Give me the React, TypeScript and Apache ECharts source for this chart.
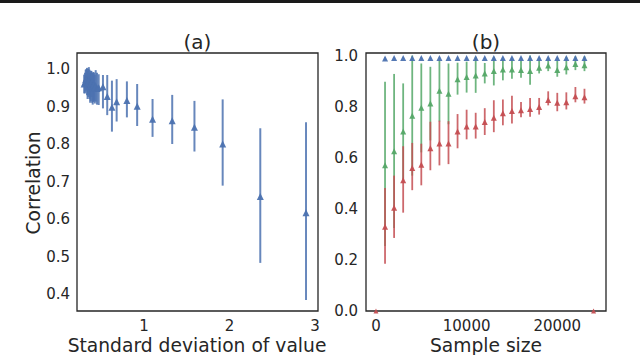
import React, { useEffect, useRef } from "react";
import * as echarts from "echarts";

// Panel (a): standard deviation of value vs correlation
const aStd = [0.30, 0.31, 0.318, 0.325, 0.333, 0.34, 0.348, 0.355, 0.363, 0.37, 0.378, 0.385, 0.393, 0.40, 0.408, 0.415, 0.425, 0.435, 0.45, 0.47, 0.52, 0.57, 0.625, 0.68, 0.80, 0.92, 1.10, 1.33, 1.59, 1.92, 2.36, 2.895];
const aCorr = [0.96, 0.965, 0.972, 0.975, 0.968, 0.96, 0.965, 0.97, 0.962, 0.955, 0.96, 0.965, 0.955, 0.95, 0.958, 0.96, 0.952, 0.955, 0.948, 0.95, 0.953, 0.927, 0.898, 0.913, 0.916, 0.901, 0.866, 0.862, 0.845, 0.80, 0.66, 0.617];
const aLow = [0.935, 0.935, 0.94, 0.945, 0.93, 0.92, 0.925, 0.93, 0.92, 0.91, 0.915, 0.925, 0.91, 0.905, 0.912, 0.915, 0.908, 0.913, 0.905, 0.904, 0.895, 0.877, 0.833, 0.86, 0.871, 0.848, 0.819, 0.80, 0.78, 0.689, 0.483, 0.384];
const aHigh = [0.985, 0.99, 0.998, 1.0, 1.003, 0.995, 1.0, 1.005, 0.998, 0.99, 0.995, 0.995, 0.99, 0.99, 0.992, 0.99, 0.985, 0.997, 0.99, 0.986, 0.984, 0.984, 0.969, 0.973, 0.967, 0.96, 0.92, 0.931, 0.915, 0.919, 0.842, 0.858];

// Panel (b): sample size vs correlation, three series
const sizes = [1000, 2000, 3000, 4000, 5000, 6000, 7000, 8000, 9000, 10000, 11000, 12000, 13000, 14000, 15000, 16000, 17000, 18000, 19000, 20000, 21000, 22000, 23000];
const blueVal = [0.988, 0.99, 0.99, 0.99, 0.99, 0.99, 0.99, 0.99, 0.99, 0.99, 0.99, 0.99, 0.99, 0.99, 0.99, 0.99, 0.99, 0.99, 0.99, 0.99, 0.99, 0.99, 0.99];
const blueLow = [0.983, 0.986, 0.987, 0.987, 0.987, 0.987, 0.987, 0.987, 0.987, 0.987, 0.987, 0.987, 0.987, 0.987, 0.987, 0.987, 0.987, 0.987, 0.987, 0.987, 0.987, 0.987, 0.987];
const blueHigh = [0.993, 0.994, 0.993, 0.993, 0.993, 0.993, 0.993, 0.993, 0.993, 0.993, 0.993, 0.993, 0.993, 0.993, 0.993, 0.993, 0.993, 0.993, 0.993, 0.993, 0.993, 0.993, 0.993];
const greenVal = [0.571, 0.625, 0.703, 0.764, 0.796, 0.812, 0.862, 0.85, 0.907, 0.916, 0.922, 0.93, 0.94, 0.945, 0.945, 0.943, 0.94, 0.952, 0.961, 0.943, 0.954, 0.967, 0.962];
const greenLow = [0.254, 0.325, 0.514, 0.53, 0.621, 0.668, 0.742, 0.731, 0.847, 0.855, 0.854, 0.891, 0.883, 0.903, 0.909, 0.913, 0.886, 0.93, 0.939, 0.917, 0.926, 0.943, 0.939];
const greenHigh = [0.897, 0.928, 0.891, 1.0, 0.969, 0.956, 0.982, 0.969, 0.972, 0.976, 0.995, 0.971, 0.995, 0.987, 0.987, 0.984, 1.0, 0.984, 0.987, 0.982, 0.995, 0.997, 0.997];
const redVal = [0.33, 0.404, 0.512, 0.56, 0.573, 0.637, 0.656, 0.656, 0.703, 0.722, 0.722, 0.74, 0.757, 0.774, 0.783, 0.786, 0.791, 0.799, 0.826, 0.815, 0.817, 0.841, 0.837];
const redLow = [0.185, 0.286, 0.385, 0.473, 0.492, 0.551, 0.57, 0.575, 0.637, 0.672, 0.675, 0.689, 0.70, 0.727, 0.734, 0.758, 0.76, 0.769, 0.805, 0.782, 0.789, 0.817, 0.812];
const redHigh = [0.482, 0.53, 0.645, 0.658, 0.655, 0.741, 0.745, 0.743, 0.771, 0.788, 0.776, 0.794, 0.825, 0.828, 0.843, 0.818, 0.834, 0.834, 0.86, 0.854, 0.856, 0.877, 0.87];
const redEndSizes = [0, 24000];
const redEndVals = [0, 0];

const aXTicks = [1, 2, 3];
const aYTicks = [0.4, 0.5, 0.6, 0.7, 0.8, 0.9, 1.0];
const bXTicks = [0, 10000, 20000];
const bYTicks = [0, 0.2, 0.4, 0.6, 0.8, 1.0];

const BLUE = "#4c72b0";
const GREEN = "#55a868";
const RED = "#c44e52";
const INK = "#262626";
const FONT = "DejaVu Sans";

function errorSeries(name: string, xs: number[], lo: number[], hi: number[], color: string, idx: number, width: number) {
  return {
    name,
    type: "custom",
    xAxisIndex: idx,
    yAxisIndex: idx,
    clip: true,
    data: xs.map((x, i) => [x, lo[i], hi[i]]),
    encode: { x: 0, y: [1, 2] },
    renderItem: (params: any, api: any) => {
      const p1 = api.coord([api.value(0), api.value(1)]);
      const p2 = api.coord([api.value(0), api.value(2)]);
      return {
        type: "line",
        shape: { x1: p1[0], y1: p1[1], x2: p2[0], y2: p2[1] },
        style: { stroke: color, lineWidth: width, opacity: 0.85 },
      };
    },
    z: 2,
  };
}

function markerSeries(name: string, xs: number[], ys: number[], color: string, idx: number, size: number) {
  return {
    name,
    type: "scatter",
    xAxisIndex: idx,
    yAxisIndex: idx,
    symbol: "triangle",
    symbolSize: size,
    clip: true,
    data: xs.map((x, i) => [x, ys[i]]),
    itemStyle: { color, opacity: 0.95 },
    z: 3,
  };
}

const labelStyle = { color: INK, fontSize: 15, fontFamily: FONT };

export default function App() {
  const ref = useRef<HTMLDivElement>(null);
  useEffect(() => {
    if (!ref.current) return;
    const chart = echarts.init(ref.current, undefined, { renderer: "svg" });
    chart.setOption({
      animation: false,
      backgroundColor: "#ffffff",
      grid: [
        { left: 77, top: 53, width: 241, height: 258, show: true, borderColor: INK, borderWidth: 1.3, backgroundColor: "transparent" },
        { left: 366, top: 53, width: 240, height: 258, show: true, borderColor: INK, borderWidth: 1.3, backgroundColor: "transparent" },
      ],
      xAxis: [
        {
          gridIndex: 0, type: "value", min: 0.2164, max: 3.035,
          axisLine: { show: false }, axisTick: { show: false }, splitLine: { show: false },
          axisLabel: { ...labelStyle, margin: 7, customValues: aXTicks, formatter: (v: number) => String(Math.round(v)) },
        },
        {
          gridIndex: 1, type: "value", min: -1100, max: 25375,
          axisLine: { show: false }, axisTick: { show: false }, splitLine: { show: false },
          axisLabel: { ...labelStyle, margin: 7, customValues: bXTicks, formatter: (v: number) => String(Math.round(v)) },
        },
      ],
      yAxis: [
        {
          gridIndex: 0, type: "value", min: 0.3547, max: 1.0427,
          axisLine: { show: false }, axisTick: { show: false }, splitLine: { show: false },
          axisLabel: { ...labelStyle, margin: 7, customValues: aYTicks, formatter: (v: number) => v.toFixed(1) },
        },
        {
          gridIndex: 1, type: "value", min: 0, max: 1.01,
          axisLine: { show: false }, axisTick: { show: false }, splitLine: { show: false },
          axisLabel: { ...labelStyle, margin: 8, customValues: bYTicks, formatter: (v: number) => v.toFixed(1) },
        },
      ],
      series: [
        errorSeries("a-err", aStd, aLow, aHigh, BLUE, 0, 2),
        markerSeries("a", aStd, aCorr, BLUE, 0, 7),
        errorSeries("blue-err", sizes, blueLow, blueHigh, BLUE, 1, 1.5),
        errorSeries("green-err", sizes, greenLow, greenHigh, GREEN, 1, 1.8),
        errorSeries("red-err", sizes, redLow, redHigh, RED, 1, 1.8),
        markerSeries("blue", sizes, blueVal, BLUE, 1, 6),
        markerSeries("green", sizes, greenVal, GREEN, 1, 6),
        markerSeries("red", sizes, redVal, RED, 1, 6),
        markerSeries("red-ends", redEndSizes, redEndVals, RED, 1, 5),
      ],
      graphic: [
        { type: "rect", left: 0, top: 0, shape: { x: 0, y: 0, width: 640, height: 3 }, style: { fill: "#1a1a1a" } },
        { type: "text", x: 197.5, y: 42, style: { text: "(a)", fontSize: 20, fontFamily: FONT, fill: INK, textAlign: "center", textVerticalAlign: "middle" } },
        { type: "text", x: 486, y: 42, style: { text: "(b)", fontSize: 20, fontFamily: FONT, fill: INK, textAlign: "center", textVerticalAlign: "middle" } },
        { type: "text", x: 197, y: 345, style: { text: "Standard deviation of value", fontSize: 18.7, fontFamily: FONT, fill: INK, textAlign: "center", textVerticalAlign: "middle" } },
        { type: "text", x: 486, y: 345, style: { text: "Sample size", fontSize: 18.7, fontFamily: FONT, fill: INK, textAlign: "center", textVerticalAlign: "middle" } },
        { type: "text", x: 33, y: 183, rotation: Math.PI / 2, style: { text: "Correlation", fontSize: 18.7, fontFamily: FONT, fill: INK, textAlign: "center", textVerticalAlign: "middle" } },
      ],
    });
    return () => chart.dispose();
  }, []);
  return <div ref={ref} style={{ position: "fixed", left: 0, top: 0, width: 640, height: 355 }} />;
}
